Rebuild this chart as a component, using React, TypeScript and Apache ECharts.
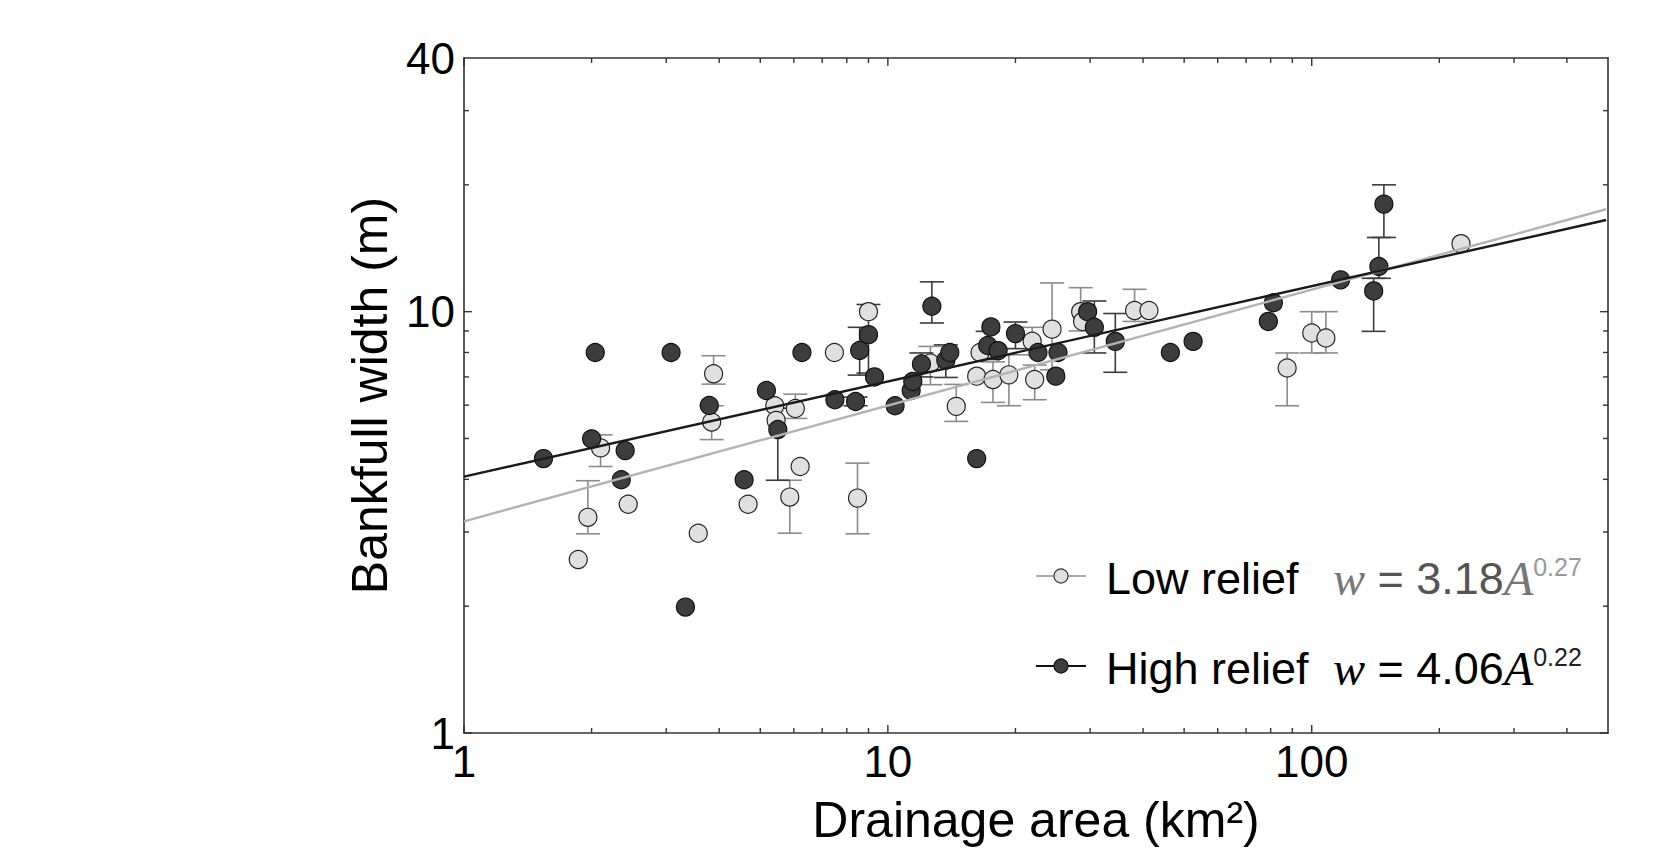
import React, { useEffect, useRef } from "react";
import * as echarts from "echarts";

// ---- data (drainage area km², bankfull width m) ----
const lowRelief: [number, number][] = [
  [1.86, 2.58], [1.96, 3.25], [2.1, 4.75], [2.44, 3.49], [3.57, 2.98], [3.88, 7.12],
  [3.84, 5.47], [4.68, 3.49], [5.41, 5.98], [5.45, 5.52], [5.87, 3.63], [6.05, 5.89],
  [6.21, 4.29], [7.48, 8.0], [8.48, 3.61], [9.0, 10.0], [12.6, 7.55], [14.5, 5.96],
  [16.2, 7.03], [16.5, 8.0], [17.7, 6.9], [19.3, 7.08], [22.2, 6.9], [21.9, 8.51],
  [24.4, 9.09], [28.5, 10.0], [28.8, 9.48], [38.2, 10.06], [41.3, 10.06], [87.5, 7.35],
  [100, 8.9], [108, 8.66], [225, 14.5],
];
// [area, lower, upper]
const lowErr: [number, number, number][] = [
  [1.96, 2.97, 3.97], [2.1, 4.29, 5.1], [3.88, 6.73, 7.86], [3.84, 4.97, 5.98],
  [5.87, 2.98, 3.98], [6.05, 5.58, 6.37], [8.48, 2.97, 4.37], [12.6, 6.71, 8.27],
  [14.5, 5.49, 6.72], [17.7, 6.09, 7.6], [19.3, 5.98, 7.9], [22.2, 6.18, 7.47],
  [21.9, 7.9, 9.18], [24.4, 7.28, 11.7], [28.5, 9.0, 11.4], [38.2, 9.48, 11.3],
  [87.5, 5.98, 7.98], [100, 7.98, 10.0], [108, 7.98, 10.0],
];
const highRelief: [number, number][] = [
  [1.54, 4.48], [2.0, 4.99], [2.04, 8.0], [2.4, 4.68], [2.35, 3.99], [3.08, 8.0],
  [3.33, 1.99], [3.79, 5.99], [4.58, 3.99], [5.17, 6.5], [5.5, 5.25], [6.27, 8.0],
  [7.5, 6.18], [8.39, 6.12], [8.58, 8.09], [9.0, 8.82], [9.3, 7.0], [10.4, 5.98],
  [11.35, 6.5], [11.45, 6.83], [12.0, 7.51], [12.7, 10.3], [13.7, 7.67], [14.0, 8.0],
  [16.2, 4.48], [17.2, 8.31], [17.5, 9.2], [18.2, 8.08], [20.0, 8.87], [22.6, 8.0],
  [25.2, 8.0], [24.9, 7.03], [29.6, 10.0], [30.7, 9.18], [34.4, 8.5], [46.4, 8.0],
  [52.5, 8.5], [79, 9.48], [81.2, 10.5], [117, 11.9], [140, 11.2], [144, 12.8], [148, 18.0],
];
const highErr: [number, number, number][] = [
  [5.5, 3.98, 5.9], [8.39, 5.98, 6.27], [8.58, 7.07, 9.18], [9.0, 7.15, 10.4],
  [12.0, 7.0, 7.98], [12.7, 9.4, 11.77], [13.7, 6.98, 8.34], [17.2, 7.7, 8.98],
  [20.0, 8.17, 9.45], [30.7, 7.98, 10.6], [34.4, 7.18, 9.9], [140, 8.98, 12.0],
  [144, 12.0, 15.0], [148, 15.0, 20.0],
];
// fitted power-law lines (end points)
const lowFit: [number, number][] = [[1, 3.18], [495, 17.5]];
const highFit: [number, number][] = [[1, 4.06], [495, 16.5]];

const seriesNames = ["Low relief", "High relief"];
const lowEq = { coef: "3.18", exp: "0.27" };
const highEq = { coef: "4.06", exp: "0.22" };

const xMin = 1, xMax = 500, yMin = 1, yMax = 40;
const xTicksMajor = [1, 10, 100];
const xTicksMinor = [2, 3, 4, 5, 6, 7, 8, 9, 20, 30, 40, 50, 60, 70, 80, 90, 200, 300, 400];
const yTicksMajor = [1, 10];
const yTicksMinor = [2, 3, 4, 5, 6, 7, 8, 9, 20, 30];

const SANS = "'Liberation Sans', Arial, Helvetica, sans-serif";
const SERIF = "'Liberation Serif', 'Times New Roman', serif";

export default function App() {
  const ref = useRef<HTMLDivElement>(null);
  useEffect(() => {
    if (!ref.current) return;
    const chart = echarts.init(ref.current, null, { renderer: "svg" });

    const errSeries = (data: [number, number, number][], color: string, z: number) => ({
      type: "custom",
      z,
      silent: true,
      clip: false,
      data,
      encode: { x: 0, y: [1, 2] },
      renderItem: (_p: any, api: any) => {
        const x = api.value(0);
        const a = api.coord([x, api.value(1)]);
        const b = api.coord([x, api.value(2)]);
        const hw = 12;
        const st = { stroke: color, lineWidth: 1.6 };
        return {
          type: "group",
          children: [
            { type: "line", shape: { x1: a[0], y1: a[1], x2: b[0], y2: b[1] }, style: st },
            { type: "line", shape: { x1: a[0] - hw, y1: a[1], x2: a[0] + hw, y2: a[1] }, style: st },
            { type: "line", shape: { x1: b[0] - hw, y1: b[1], x2: b[0] + hw, y2: b[1] }, style: st },
          ],
        };
      },
    });

    const xTickData = [
      ...xTicksMajor.map((v) => [v, 8]),
      ...xTicksMinor.map((v) => [v, 5]),
    ];
    const yTickData = [
      ...yTicksMajor.map((v) => [v, 8]),
      ...yTicksMinor.map((v) => [v, 5]),
    ];
    const tickStyle = { stroke: "#333", lineWidth: 1.4 };

    const option: any = {
      animation: false,
      backgroundColor: "#fff",
      grid: { left: 464, top: 58, width: 1144, height: 675 },
      xAxis: [
        {
          type: "log",
          logBase: 10,
          min: xMin,
          max: xMax,
          position: "bottom",
          axisLine: { show: true, lineStyle: { color: "#333", width: 1.6 } },
          axisTick: { show: false },
          splitLine: { show: false },
          minorTick: { show: false },
          axisLabel: {
            fontSize: 44,
            color: "#000",
            fontFamily: SANS,
            margin: 6,
            showMaxLabel: false,
            formatter: (v: number) => String(Math.round(v)),
          },
          name: "Drainage area (km²)",
          nameLocation: "middle",
          nameGap: 62,
          nameTextStyle: { fontSize: 50, color: "#000", fontFamily: SANS },
        },
        {
          type: "log",
          logBase: 10,
          min: xMin,
          max: xMax,
          position: "top",
          axisLine: { show: true, lineStyle: { color: "#333", width: 1.6 } },
          axisTick: { show: false },
          axisLabel: { show: false },
          splitLine: { show: false },
        },
      ],
      yAxis: [
        {
          type: "log",
          logBase: 10,
          min: yMin,
          max: yMax,
          position: "left",
          axisLine: { show: true, lineStyle: { color: "#333", width: 1.6 } },
          axisTick: { show: false },
          splitLine: { show: false },
          minorTick: { show: false },
          axisLabel: {
            fontSize: 44,
            color: "#000",
            fontFamily: SANS,
            margin: 9,
            formatter: (v: number) => String(Math.round(v)),
          },
          name: "Bankfull width (m)",
          nameLocation: "middle",
          nameGap: 62,
          nameTextStyle: { fontSize: 50, color: "#000", fontFamily: SANS },
        },
        {
          type: "log",
          logBase: 10,
          min: yMin,
          max: yMax,
          position: "right",
          axisLine: { show: true, lineStyle: { color: "#333", width: 1.6 } },
          axisTick: { show: false },
          axisLabel: { show: false },
          splitLine: { show: false },
        },
      ],
      series: [
        {
          type: "custom",
          z: 1,
          silent: true,
          clip: false,
          data: xTickData,
          encode: { x: 0 },
          renderItem: (_p: any, api: any) => {
            const v = api.value(0);
            const len = api.value(1);
            const b = api.coord([v, yMin]);
            const t = api.coord([v, yMax]);
            return {
              type: "group",
              children: [
                { type: "line", shape: { x1: b[0], y1: b[1], x2: b[0], y2: b[1] - len }, style: tickStyle },
                { type: "line", shape: { x1: t[0], y1: t[1], x2: t[0], y2: t[1] + len }, style: tickStyle },
              ],
            };
          },
        },
        {
          type: "custom",
          z: 1,
          silent: true,
          clip: false,
          data: yTickData.map((d) => [xMin, d[0], d[1]]),
          encode: { x: 0, y: 1 },
          renderItem: (_p: any, api: any) => {
            const v = api.value(1);
            const len = api.value(2);
            const l = api.coord([xMin, v]);
            const r = api.coord([xMax, v]);
            return {
              type: "group",
              children: [
                { type: "line", shape: { x1: l[0], y1: l[1], x2: l[0] + len, y2: l[1] }, style: tickStyle },
                { type: "line", shape: { x1: r[0], y1: r[1], x2: r[0] - len, y2: r[1] }, style: tickStyle },
              ],
            };
          },
        },
        errSeries(lowErr, "#8c8c8c", 2),
        errSeries(highErr, "#3c3c3c", 2),
        {
          name: seriesNames[0],
          type: "scatter",
          z: 3,
          symbol: "circle",
          symbolSize: 18,
          data: lowRelief,
          itemStyle: { color: "#e0e0e0", borderColor: "#262626", borderWidth: 1.2, opacity: 1 },
        },
        {
          name: seriesNames[1],
          type: "scatter",
          z: 4,
          symbol: "circle",
          symbolSize: 18,
          data: highRelief,
          itemStyle: { color: "#3d3d3d", borderColor: "#111", borderWidth: 1.2, opacity: 1 },
        },
        {
          type: "line",
          z: 5,
          silent: true,
          showSymbol: false,
          data: lowFit,
          lineStyle: { color: "#b3b3b3", width: 2.4 },
        },
        {
          type: "line",
          z: 6,
          silent: true,
          showSymbol: false,
          data: highFit,
          lineStyle: { color: "#1a1a1a", width: 2.4 },
        },
      ],
      graphic: [
        // legend row 1
        { type: "line", z: 100, shape: { x1: 1036, y1: 576, x2: 1086, y2: 576 }, style: { stroke: "#aaa", lineWidth: 2.2 } },
        { type: "circle", z: 101, shape: { cx: 1061, cy: 576, r: 7 }, style: { fill: "#e0e0e0", stroke: "#333", lineWidth: 1.2 } },
        {
          type: "text", z: 101, x: 1106, y: 578,
          style: { text: seriesNames[0], fontSize: 45, fontFamily: SANS, fill: "#000", verticalAlign: "middle" },
        },
        {
          type: "text", z: 101, x: 1333, y: 578,
          style: {
            text: `{it|w} = ${lowEq.coef}{it|A}{sup|${lowEq.exp}}`,
            fontSize: 45, fontFamily: SANS, fill: "#555", verticalAlign: "middle",
            rich: {
              it: { fontFamily: SERIF, fontStyle: "italic", fontSize: 48, fill: "#777" },
              sup: { fontFamily: SANS, fontSize: 25, fill: "#999", verticalAlign: "top" },
            },
          },
        },
        // legend row 2
        { type: "line", z: 100, shape: { x1: 1036, y1: 666, x2: 1086, y2: 666 }, style: { stroke: "#111", lineWidth: 2.2 } },
        { type: "circle", z: 101, shape: { cx: 1061, cy: 666, r: 7 }, style: { fill: "#3d3d3d", stroke: "#111", lineWidth: 1.2 } },
        {
          type: "text", z: 101, x: 1106, y: 668,
          style: { text: seriesNames[1], fontSize: 45, fontFamily: SANS, fill: "#000", verticalAlign: "middle" },
        },
        {
          type: "text", z: 101, x: 1333, y: 668,
          style: {
            text: `{it|w} = ${highEq.coef}{it|A}{sup|${highEq.exp}}`,
            fontSize: 45, fontFamily: SANS, fill: "#000", verticalAlign: "middle",
            rich: {
              it: { fontFamily: SERIF, fontStyle: "italic", fontSize: 48, fill: "#000" },
              sup: { fontFamily: SANS, fontSize: 25, fill: "#222", verticalAlign: "top" },
            },
          },
        },
      ],
    };
    chart.setOption(option);
    return () => chart.dispose();
  }, []);
  return (
    <div
      ref={ref}
      style={{ position: "absolute", left: 0, top: 0, width: 1672, height: 866, background: "#fff" }}
    />
  );
}
